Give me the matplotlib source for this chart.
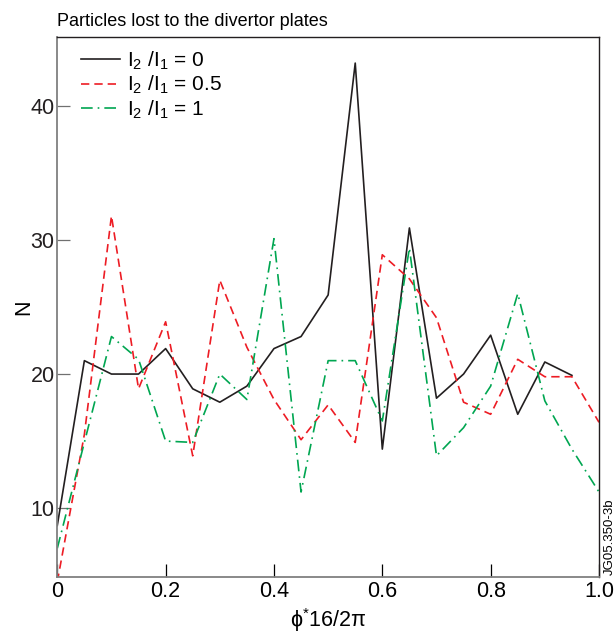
import numpy as np
import matplotlib
matplotlib.use("Agg")
import matplotlib.pyplot as plt

plt.rcParams['font.family'] = ['Liberation Sans', 'DejaVu Sans']
plt.rcParams['mathtext.default'] = 'regular'

# phi*16/2pi sample positions
x = np.arange(21) * 0.05

# particle counts
n_ratio0 = [8.7, 21.0, 20.0, 20.0, 21.9, 18.9, 17.9, 19.1, 21.9, 22.8,
            25.9, 43.2, 14.4, 30.9, 18.2, 20.0, 22.9, 17.0, 20.9, 19.9]
n_ratio05 = [4.5, 15.5, 31.8, 18.9, 23.9, 13.9, 27.0, 22.0, 18.1, 15.1,
             17.7, 14.9, 28.9, 27.1, 24.2, 17.9, 17.0, 21.1, 19.8, 19.8, 16.4]
n_ratio1 = [7.0, 14.9, 22.8, 21.1, 15.0, 14.9, 20.0, 18.1, 30.1, 11.2,
            21.0, 21.0, 16.5, 29.4, 13.9, 16.0, 19.1, 26.0, 18.0, 14.4, 11.2]

labels = ['I$_2$ /I$_1$ = 0', 'I$_2$ /I$_1$ = 0.5', 'I$_2$ /I$_1$ = 1']
xticks = [0, 0.2, 0.4, 0.6, 0.8, 1.0]
xticklabels = ['0', '0.2', '0.4', '0.6', '0.8', '1.0']
yticks = [10, 20, 30, 40]

fig = plt.figure(figsize=(6.16, 6.37), dpi=100)
ax = fig.add_axes([0.093, 0.094, 0.8794, 0.848])

ax.plot(x[:len(n_ratio0)], n_ratio0, color='#231f20', lw=1.2, label=labels[0])
ax.plot(x, n_ratio05, color='#ed1c24', lw=1.2, ls=(0, (5, 3)), label=labels[1])
ax.plot(x, n_ratio1, color='#00a651', lw=1.2, ls=(0, (7, 3, 1, 3)), label=labels[2])

ax.set_xlim(0, 1.0)
ax.set_ylim(4.85, 45.15)
ax.set_xticks(xticks)
ax.set_xticklabels(xticklabels)
ax.set_yticks(yticks)
ax.tick_params(direction='in', length=9.5, width=0.9, labelsize=15.5, pad=3)
ax.tick_params(axis='y', colors='#707070', labelcolor='#231f20', pad=2)
for s in ['left', 'bottom']:
    ax.spines[s].set_color('#808080')
    ax.spines[s].set_linewidth(1.3)
for s in ['top', 'right']:
    ax.spines[s].set_color('#231f20')
    ax.spines[s].set_linewidth(1.0)

ax.set_xlabel('ϕ$^{*}$16/2π', fontsize=15.5, labelpad=3)
ax.set_ylabel('N', fontsize=15.5, labelpad=-3)
ax.set_title('Particles lost to the divertor plates', loc='left', fontsize=13, pad=8)

ax.legend(loc='upper left', frameon=False, fontsize=15, handlelength=1.9,
          handletextpad=0.35, labelspacing=0.1, borderaxespad=0.2,
          bbox_to_anchor=(0.02, 1.0))

fig.text(0.999, 0.097, 'JG05.350-3b', rotation=90, fontsize=9.5,
         ha='right', va='bottom')

fig.savefig('out.png', dpi=100)
